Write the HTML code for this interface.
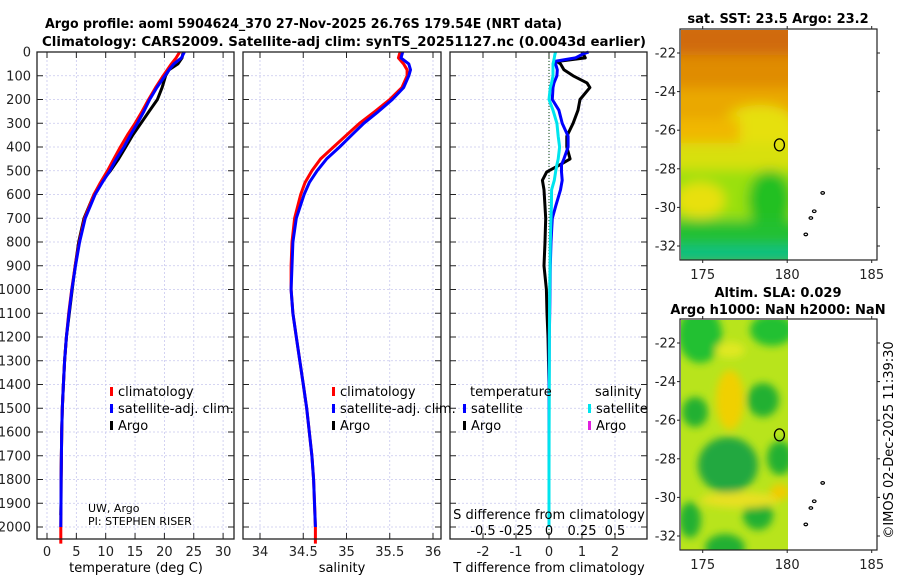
<!DOCTYPE html>
<html><head><meta charset="utf-8"><style>
html,body{margin:0;padding:0;background:#fff;}
svg{display:block;font-family:"DejaVu Sans","Liberation Sans",sans-serif;}
</style></head><body>
<svg id="fig" width="900" height="580" viewBox="0 0 900 580" xmlns="http://www.w3.org/2000/svg">
<defs>
<filter id="blur4" x="-20%" y="-20%" width="140%" height="140%"><feGaussianBlur stdDeviation="4"/></filter>
<filter id="blur6" x="-20%" y="-20%" width="140%" height="140%"><feGaussianBlur stdDeviation="6"/></filter>
<clipPath id="clipTop"><rect x="681" y="30" width="107" height="230"/></clipPath>
<clipPath id="clipBot"><rect x="681" y="320" width="107" height="230"/></clipPath>
</defs>
<g font-weight="bold" font-size="13">
<text x="45" y="28" textLength="517" lengthAdjust="spacingAndGlyphs">Argo profile: aoml 5904624_370 27-Nov-2025 26.76S 179.54E (NRT data)</text>
<text x="42" y="46" textLength="604" lengthAdjust="spacingAndGlyphs">Climatology: CARS2009. Satellite-adj clim: synTS_20251127.nc (0.0043d earlier)</text>
</g>
<g id="plots"></g>
<!-- SST map -->
<g>
<text x="778" y="23" text-anchor="middle" font-weight="bold" font-size="13">sat. SST: 23.5 Argo: 23.2</text>
<g clip-path="url(#clipTop)">
<rect x="681" y="30" width="107" height="230" fill="#e8a200"/>
<g filter="url(#blur6)">
<rect x="670" y="20" width="130" height="40" fill="#d06a08"/>
<rect x="670" y="55" width="130" height="35" fill="#e08c00"/>
<rect x="670" y="88" width="130" height="25" fill="#eaa800"/>
<ellipse cx="760" cy="130" rx="40" ry="25" fill="#e6e010"/>
<rect x="670" y="118" width="70" height="25" fill="#f0b800"/>
<rect x="670" y="143" width="130" height="30" fill="#d8e010"/>
<rect x="670" y="170" width="130" height="50" fill="#9ae010"/>
<ellipse cx="700" cy="200" rx="25" ry="18" fill="#e8e010"/>
<ellipse cx="770" cy="200" rx="22" ry="30" fill="#22c020"/>
<rect x="670" y="220" width="130" height="45" fill="#20c030"/>
<rect x="670" y="245" width="130" height="20" fill="#10c080"/>
</g>
</g>
<rect x="680" y="29" width="197" height="231" fill="none" stroke="#222" stroke-width="1.2"/>
</g>
<!-- SLA map -->
<g>
<text x="778" y="297" text-anchor="middle" font-weight="bold" font-size="13">Altim. SLA: 0.029</text>
<text x="778" y="314" text-anchor="middle" font-weight="bold" font-size="13">Argo h1000: NaN h2000: NaN</text>
<g clip-path="url(#clipBot)">
<rect x="681" y="320" width="107" height="230" fill="#b8e41c"/>
<g filter="url(#blur4)">
<ellipse cx="700" cy="335" rx="22" ry="28" fill="#22c030"/>
<ellipse cx="772" cy="330" rx="22" ry="16" fill="#22c030"/>
<ellipse cx="730" cy="350" rx="15" ry="8" fill="#e0e820"/>
<ellipse cx="730" cy="400" rx="14" ry="30" fill="#f0d000"/>
<ellipse cx="763" cy="400" rx="16" ry="17" fill="#22b030"/>
<ellipse cx="695" cy="412" rx="13" ry="15" fill="#22b030"/>
<ellipse cx="728" cy="465" rx="30" ry="28" fill="#20a840"/>
<ellipse cx="780" cy="458" rx="13" ry="17" fill="#22b030"/>
<ellipse cx="690" cy="520" rx="11" ry="18" fill="#22b030"/>
<ellipse cx="758" cy="515" rx="15" ry="15" fill="#22b030"/>
<ellipse cx="725" cy="548" rx="20" ry="14" fill="#22b030"/>
<ellipse cx="740" cy="500" rx="40" ry="8" fill="#e8e020"/>
<ellipse cx="780" cy="492" rx="10" ry="8" fill="#f0cc00"/>
</g>
</g>
<rect x="680" y="319" width="197" height="231" fill="none" stroke="#222" stroke-width="1.2"/>
</g>
<text transform="translate(893,440) rotate(-90)" text-anchor="middle" font-size="13">©IMOS 02-Dec-2025 11:39:30</text>
<g id="maps-axes"></g>
</svg>
<script>
// ---------- data ----------
const depths = [0,25,50,75,100,150,200,250,300,350,400,450,500,550,600,700,800,900,1000,1100,1200,1300,1400,1500,1600,1700,1800,1900,2000];
const tempArgo = [23.2,23.0,22.3,20.8,20.2,19.6,18.8,17.4,16.0,14.6,13.4,12.2,10.8,9.2,8.0,6.3,5.4,4.8,4.3,3.8,3.3,3.0,2.8,2.6,2.5,2.45,2.4,2.38,2.35];
const tempClim = [22.6,22.0,21.2,20.5,19.8,18.5,17.3,16.2,15.0,13.7,12.5,11.4,10.3,9.1,8.0,6.4,5.5,4.8,4.2,3.7,3.3,3.0,2.8,2.6,2.5,2.45,2.4,2.38,2.35];
const tempSat = [23.4,22.9,21.6,20.8,20.1,18.7,17.5,16.5,15.4,14.2,13.1,11.8,10.7,9.4,8.2,6.5,5.55,4.85,4.25,3.75,3.3,3.0,2.8,2.6,2.5,2.45,2.4,2.38,2.35];
const salClim = [35.62,35.6,35.66,35.7,35.7,35.64,35.5,35.33,35.15,35.0,34.85,34.7,34.6,34.52,34.47,34.4,34.37,34.36,34.36,34.38,34.42,34.46,34.5,34.54,34.57,34.6,34.62,34.63,34.64];
const salSat = [35.65,35.63,35.72,35.74,35.72,35.66,35.53,35.37,35.2,35.06,34.92,34.77,34.66,34.57,34.51,34.42,34.38,34.37,34.36,34.38,34.42,34.46,34.5,34.54,34.57,34.6,34.62,34.63,34.64];
const diffDepths = [0,10,25,40,50,75,100,130,150,200,245,300,355,400,450,475,505,540,580,650,700,800,900,1000,1100,1200,1400,1600,1800,2000];
const tDiffArgo = [1.0,1.05,1.1,0.24,0.35,0.45,0.73,1.15,1.24,0.94,0.88,0.73,0.54,0.54,0.64,0.33,-0.07,-0.2,-0.15,-0.12,-0.1,-0.12,-0.15,-0.08,-0.06,-0.03,0,0,0,0];
const tDiffSat = [1.2,1.0,0.8,0.15,0.2,0.25,0.24,0.15,0.12,0.1,0.3,0.4,0.58,0.58,0.45,0.38,0.38,0.4,0.35,0.2,0.1,0.06,0.04,0.03,0.02,0.01,0,0,0,0];
const sDiffSat = [0.05,0.045,0.04,0.035,0.03,0.03,0.03,0.02,0.01,0.0,0.03,0.06,0.07,0.08,0.07,0.06,0.05,0.04,0.02,0.018,0.015,0.01,0.008,0.005,0.004,0.003,0.002,0.001,0,0];
const depthTicks = [0,100,200,300,400,500,600,700,800,900,1000,1100,1200,1300,1400,1500,1600,1700,1800,1900,2000];
const tempTicks = [0,5,10,15,20,25,30];
const salTicks = [34,34.5,35,35.5,36];
const tDiffTicks = [-2,-1,0,1,2];
const sDiffTicks = [-0.5,-0.25,0,0.25,0.5];
const sDiffTickLabels = ['-0.5','-0.25','0','0.25','0.5'];
const latTicks = [-22,-24,-26,-28,-30,-32];
const lonTicks = [175,180,185];

// ---------- helpers ----------
const NS = 'http://www.w3.org/2000/svg';
const root = document.getElementById('plots');
function mk(tag, attrs, parent){const e=document.createElementNS(NS,tag);for(const k in attrs)e.setAttribute(k,attrs[k]);(parent||root).appendChild(e);return e;}
const Y0=52, YTOP=52, YBOT=539;
const yD = d => Y0 + d*0.2375;
const panels = [
 {name:'temperature', x0:37, x1:234, f:v=>47+v*5.87},
 {name:'salinity', x0:243, x1:441, f:v=>260+(v-34)*86.5},
 {name:'difference', x0:450, x1:647, f:v=>549+v*33, fs:v=>549+v*132}
];
function line(xs, ds, fx, color, w, name){
  let d='';
  xs.forEach((v,i)=>{d+=(i?'L':'M')+fx(v).toFixed(1)+','+yD(ds[i]).toFixed(1);});
  const p=mk('path',{d:d,fill:'none',stroke:color,'stroke-width':w,'stroke-linejoin':'round'});
  
  
  return p;
}
function txt(x,y,s,opts){const t=mk('text',Object.assign({x:x,y:y,'font-size':13},opts||{}));t.textContent=s;return t;}

panels.forEach((P,pi)=>{
  const g=mk('g',{});
  
  
  depthTicks.forEach(d=>{
    mk('line',{x1:P.x0,x2:P.x1,y1:yD(d),y2:yD(d),stroke:'#c8c8ee','stroke-dasharray':'2,2','stroke-width':0.8},g);
    mk('line',{x1:P.x0,x2:P.x0+6,y1:yD(d),y2:yD(d),stroke:'#222'},g);
    mk('line',{x1:P.x1-6,x2:P.x1,y1:yD(d),y2:yD(d),stroke:'#222'},g);
  });
  let ticks = pi===0?tempTicks:pi===1?salTicks:tDiffTicks;
  ticks.forEach(v=>{
    const x=P.f(v);
    mk('line',{x1:x,x2:x,y1:YTOP,y2:YBOT,stroke:'#c8c8ee','stroke-dasharray':'2,2','stroke-width':0.8},g);
    mk('line',{x1:x,x2:x,y1:YBOT-6,y2:YBOT,stroke:'#222'},g);
    mk('line',{x1:x,x2:x,y1:YTOP,y2:YTOP+6,stroke:'#222'},g);
    const t=txt(x,556,String(v),{'text-anchor':'middle',fill:'#222'});
    
    
  });
});
depthTicks.forEach(d=>{
  const t=txt(31,yD(d)+4.5,String(d),{'text-anchor':'end',fill:'#222'});
  
  
});
txt(136,572,'temperature (deg C)',{'text-anchor':'middle'});
txt(342,572,'salinity',{'text-anchor':'middle'});
txt(549,572,'T difference from climatology',{'text-anchor':'middle'});

const P1=panels[0],P2=panels[1],P3=panels[2];
line(tempArgo,depths.slice(0,28).concat([1950]),P1.f,'#000',3,'temp-argo-line');
line(tempClim.concat([2.35]),depths.concat([2070]),P1.f,'#f00',3,'temp-climatology-line');
line(tempSat,depths,P1.f,'#00f',3,'temp-satellite-line');
line(salClim.concat([34.64]),depths.concat([2070]),P2.f,'#f00',3,'salinity-climatology-line');
line(salSat,depths,P2.f,'#00f',3,'salinity-satellite-line');
mk('line',{x1:549,x2:549,y1:YTOP,y2:YBOT,stroke:'#363',"stroke-dasharray":"1,2","stroke-width":1.2});
line(tDiffArgo,diffDepths,P3.f,'#000',3,'t-diff-argo-line');
line(tDiffSat,diffDepths,P3.f,'#00f',3,'t-diff-satellite-line');
line(sDiffSat,diffDepths,P3.fs,'#00e5ee',3,'s-diff-satellite-line');

panels.forEach(P=>{mk('rect',{x:P.x0,y:YTOP,width:P.x1-P.x0,height:YBOT-YTOP,fill:'none',stroke:'#222','stroke-width':1.3});});

const sl=txt(549,519,'S difference from climatology',{'text-anchor':'middle'});

sDiffTicks.forEach((v,i)=>{
  const x=P3.fs(v);
  mk('line',{x1:x,x2:x,y1:YBOT-6,y2:YBOT,stroke:'#222'});
  const t=txt(x,535,sDiffTickLabels[i],{'text-anchor':'middle'});
  
  
});

function leg(x,y,color,label,name){
  mk('rect',{x:x,y:y-9,width:3,height:9,fill:color});
  const t=txt(x+8,y,label,{});
  
  
}
leg(110,396,'#f00','climatology','legend-climatology');
leg(110,413,'#00f','satellite-adj. clim.','legend-satellite');
leg(110,430,'#000','Argo','legend-argo');
leg(332,396,'#f00','climatology','legend-sal-climatology');
leg(332,413,'#00f','satellite-adj. clim.','legend-sal-satellite');
leg(332,430,'#000','Argo','legend-sal-argo');
txt(470,396,'temperature',{});
leg(463,413,'#00f','satellite','legend-t-satellite');
leg(463,430,'#000','Argo','legend-t-argo');
txt(595,396,'salinity',{});
leg(588,413,'#00e5ee','satellite','legend-s-satellite');
leg(588,430,'#e020e0','Argo','legend-s-argo');
txt(88,512,'UW, Argo',{'font-size':11});
txt(88,525,'PI: STEPHEN RISER',{'font-size':11});

const MA=document.getElementById('maps-axes');
[{top:29,bot:260,y22:53,y32:246,name:'sst'},{top:319,bot:550,y22:343,y32:536,name:'sla'}].forEach(M=>{
  const fy=lat=>M.y22+(lat+22)/(-10)*(M.y32-M.y22);
  const fx=lon=>702.7+(lon-175)*16.9;
  latTicks.forEach(l=>{
    const y=fy(l);
    mk('line',{x1:677,x2:680,y1:y,y2:y,stroke:'#222'},MA);
    mk('line',{x1:877,x2:880,y1:y,y2:y,stroke:'#222'},MA);
    const t=mk('text',{x:676,y:y+4.5,'font-size':13,'text-anchor':'end',fill:'#222'},MA);t.textContent=String(l);
    
    
  });
  lonTicks.forEach(l=>{
    const x=fx(l);
    mk('line',{x1:x,x2:x,y1:M.bot,y2:M.bot+3,stroke:'#222'},MA);
    mk('line',{x1:x,x2:x,y1:M.top-3,y2:M.top,stroke:'#222'},MA);
    const t=mk('text',{x:x,y:M.bot+19,'font-size':13,'text-anchor':'middle',fill:'#222'},MA);t.textContent=String(l);
    
    
  });
  const c=mk('ellipse',{cx:fx(179.54),cy:fy(-26.76),rx:5,ry:6,fill:'none',stroke:'#000','stroke-width':1.3},MA);
  
  
  [[182.1,-29.25],[181.6,-30.2],[181.4,-30.55],[181.1,-31.4]].forEach(p=>{
    mk('ellipse',{cx:fx(p[0]),cy:fy(p[1]),rx:1.8,ry:1.3,fill:'none',stroke:'#000','stroke-width':1.2},MA);
  });
});
</script>
</body></html>
